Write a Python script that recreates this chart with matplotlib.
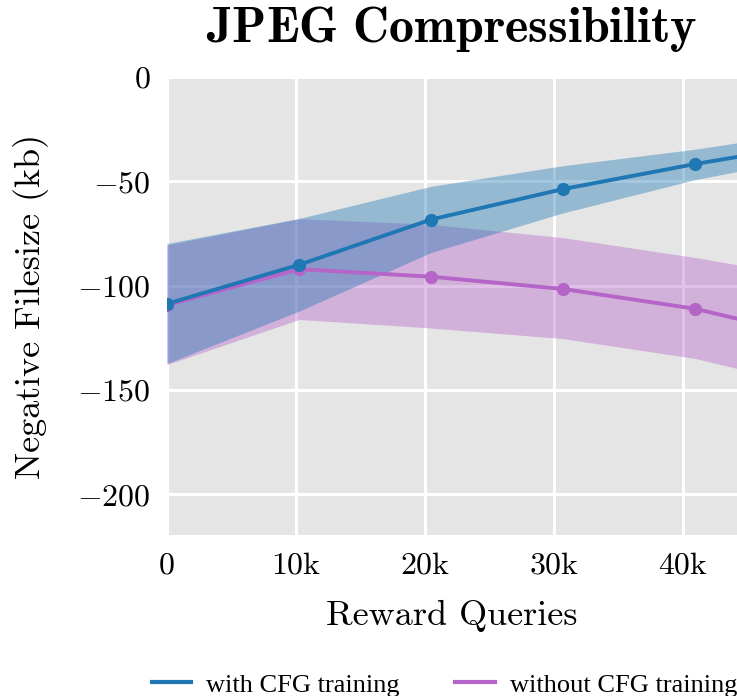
import numpy as np
import matplotlib
matplotlib.use('Agg')
import matplotlib.pyplot as plt
from matplotlib.ticker import FuncFormatter

# reward queries (x) and curves
queries = [0, 10240, 20480, 30720, 40960, 51200]

cfg_mean = [-108.7, -90.0, -68.3, -53.7, -41.7, -31.0]
cfg_low = [-137.3, -112.2, -84.1, -65.1, -49.2, -37.0]
cfg_high = [-79.8, -67.8, -52.4, -42.5, -34.6, -25.0]

nocfg_mean = [-109.3, -92.1, -95.7, -101.6, -111.1, -126.0]
nocfg_low = [-137.8, -116.2, -120.3, -125.4, -134.9, -150.0]
nocfg_high = [-80.5, -67.9, -70.6, -77.0, -86.5, -97.5]

xticks = [0, 10000, 20000, 30000, 40000]
yticks = [0, -50, -100, -150, -200]

blue = '#1f77b4'
purple = '#b565c8'

plt.rcParams['font.family'] = 'serif'
plt.rcParams['font.serif'] = ['cmr10']
plt.rcParams['mathtext.fontset'] = 'cm'
plt.rcParams['axes.unicode_minus'] = True

fig = plt.figure(figsize=(7.37, 6.96), dpi=100)
ax = fig.add_axes([167/737, 1-535/696, 1-167/737, (535-77)/696])
ax.set_facecolor('#e5e5e5')
for s in ax.spines.values():
    s.set_visible(False)
ax.grid(True, color='white', linewidth=2.2)
ax.set_axisbelow(True)

# purple first, blue over it
ax.fill_between(queries, nocfg_low, nocfg_high, color=purple, alpha=0.4, linewidth=0)
l2, = ax.plot(queries, nocfg_mean, color=purple, lw=2.8, marker='o', ms=8.5,
              label='without CFG training')
ax.fill_between(queries, cfg_low, cfg_high, color=blue, alpha=0.4, linewidth=0)
l1, = ax.plot(queries, cfg_mean, color=blue, lw=2.8, marker='o', ms=8.5,
              label='with CFG training')

ax.set_xlim(0, 44200)
ax.set_ylim(-219.5, 0)
ax.set_xticks(xticks)
ax.set_yticks(yticks)
ax.xaxis.set_major_formatter(FuncFormatter(lambda v, p: '0' if v == 0 else '%dk' % (v // 1000)))
ax.yaxis.set_major_formatter(FuncFormatter(lambda v, p: '$%d$' % v))
ax.tick_params(length=0, labelsize=23, pad=12)

ax.set_xlabel('Reward Queries', fontsize=26, labelpad=15)
ax.set_ylabel('Negative Filesize (kb)', fontsize=26, labelpad=20)
ax.set_title(r'$\mathbf{JPEG\ Compressibility}$', fontsize=36, pad=25)

fig.legend(handles=[l1, l2], labels=['with CFG training', 'without CFG training'],
           loc='center', bbox_to_anchor=(0.603, 0.016), ncol=2, frameon=False,
           prop={'family': 'Liberation Serif', 'size': 19},
           handlelength=1.5, handletextpad=0.57, columnspacing=2.1)
for h in fig.legends[0].legend_handles:
    h.set_marker('')
    h.set_linewidth(3)

fig.savefig('out.png', dpi=100)
